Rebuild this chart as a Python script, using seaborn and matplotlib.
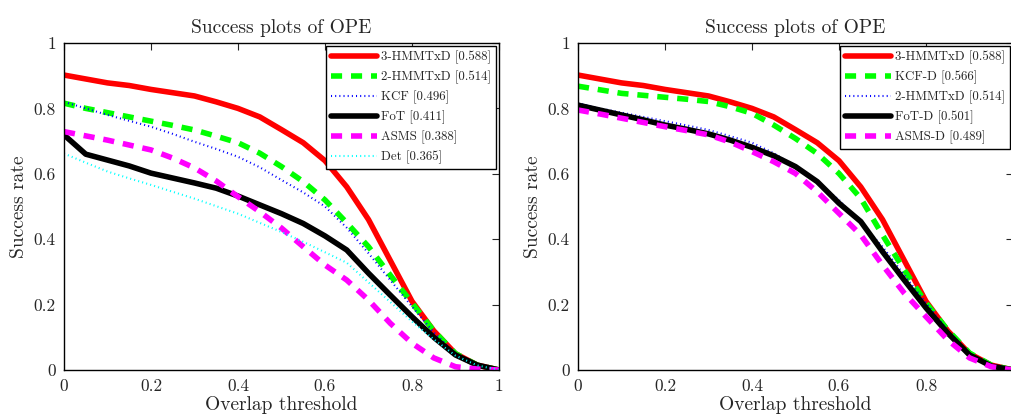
import numpy as np
import pandas as pd
import matplotlib
matplotlib.use("Agg")
import matplotlib.pyplot as plt
import seaborn as sns

# overlap thresholds
thresholds = [0.0, 0.05, 0.1, 0.15, 0.2, 0.25, 0.3, 0.35, 0.4, 0.45, 0.5,
              0.55, 0.6, 0.65, 0.7, 0.75, 0.8, 0.85, 0.9, 0.95, 1.0]

# left panel
hmm3 = [0.902, 0.89, 0.878, 0.87, 0.858, 0.848, 0.838, 0.82, 0.80, 0.774, 0.735,
        0.695, 0.64, 0.56, 0.46, 0.335, 0.21, 0.12, 0.05, 0.015, 0.0]
hmm2 = [0.816, 0.80, 0.787, 0.774, 0.761, 0.748, 0.734, 0.715, 0.695, 0.663, 0.622,
        0.576, 0.52, 0.45, 0.377, 0.29, 0.205, 0.12, 0.05, 0.015, 0.0]
kcf = [0.82, 0.80, 0.78, 0.762, 0.744, 0.722, 0.698, 0.676, 0.652, 0.62, 0.581,
       0.543, 0.50, 0.435, 0.357, 0.275, 0.194, 0.115, 0.05, 0.015, 0.0]
fot = [0.719, 0.66, 0.642, 0.624, 0.602, 0.587, 0.572, 0.556, 0.532, 0.505, 0.478,
       0.448, 0.41, 0.367, 0.296, 0.229, 0.163, 0.10, 0.046, 0.015, 0.0]
asms = [0.729, 0.716, 0.703, 0.688, 0.673, 0.648, 0.618, 0.578, 0.53, 0.484, 0.434,
        0.377, 0.321, 0.275, 0.214, 0.143, 0.082, 0.037, 0.01, 0.003, 0.0]
det = [0.662, 0.634, 0.607, 0.586, 0.566, 0.545, 0.524, 0.501, 0.478, 0.45, 0.422,
       0.392, 0.36, 0.328, 0.268, 0.208, 0.148, 0.094, 0.044, 0.014, 0.0]

# right panel (3-HMMTxD and 2-HMMTxD are the same runs as on the left)
kcf_d = [0.868, 0.857, 0.846, 0.840, 0.834, 0.828, 0.821, 0.805, 0.785, 0.749, 0.708,
         0.662, 0.601, 0.525, 0.413, 0.306, 0.205, 0.122, 0.052, 0.015, 0.0]
fot_d = [0.81, 0.795, 0.78, 0.765, 0.749, 0.736, 0.722, 0.703, 0.681, 0.655, 0.622,
         0.576, 0.51, 0.454, 0.362, 0.275, 0.19, 0.113, 0.046, 0.012, 0.0]
asms_d = [0.795, 0.783, 0.77, 0.757, 0.744, 0.732, 0.719, 0.697, 0.668, 0.637, 0.601,
          0.545, 0.479, 0.413, 0.321, 0.235, 0.163, 0.092, 0.037, 0.01, 0.0]

tick_vals = [0, 0.2, 0.4, 0.6, 0.8, 1]
tick_text = ["0", "0.2", "0.4", "0.6", "0.8", "1"]

left_series = [
    ("3-HMMTxD [0.588]", hmm3, "#ff0000", "-", 4),
    ("2-HMMTxD [0.514]", hmm2, "#00ff00", (0, (2, 1.6)), 4),
    ("KCF [0.496]", kcf, "#0000ff", (0, (0.5, 1.5)), 1.5),
    ("FoT [0.411]", fot, "#000000", "-", 4),
    ("ASMS [0.388]", asms, "#ff00ff", (0, (2, 1.6)), 4),
    ("Det [0.365]", det, "#00ffff", (0, (0.5, 1.5)), 1.5),
]
right_series = [
    ("3-HMMTxD [0.588]", hmm3, "#ff0000", "-", 4),
    ("KCF-D [0.566]", kcf_d, "#00ff00", (0, (2, 1.6)), 4),
    ("2-HMMTxD [0.514]", hmm2, "#0000ff", (0, (0.5, 1.5)), 1.5),
    ("FoT-D [0.501]", fot_d, "#000000", "-", 4),
    ("ASMS-D [0.489]", asms_d, "#ff00ff", (0, (2, 1.6)), 4),
]

sns.set_style("white")
plt.rcParams['font.family'] = 'serif'
plt.rcParams['font.serif'] = ['cmr10', 'DejaVu Serif']
plt.rcParams['mathtext.fontset'] = 'cm'
plt.rcParams['axes.formatter.use_mathtext'] = True

fig = plt.figure(figsize=(10.11, 4.2), dpi=100)
ax1 = fig.add_axes([64 / 1011, 50 / 420, 435 / 1011, 327 / 420])
ax2 = fig.add_axes([578 / 1011, 50 / 420, 435 / 1011, 327 / 420])

for ax, series in [(ax1, left_series), (ax2, right_series)]:
    for label, vals, col, ls, lw in series:
        df = pd.DataFrame({"x": thresholds, "y": vals})
        sns.lineplot(data=df, x="x", y="y", ax=ax, color=col, linestyle=ls,
                     linewidth=lw, label=label)
    ax.set_xlim(0, 1)
    ax.set_ylim(0, 1)
    ax.set_xticks(tick_vals)
    ax.set_yticks(tick_vals)
    ax.set_yticklabels(tick_text)
    ax.tick_params(direction="in", top=True, right=True, labelsize=12.5,
                   length=5, width=0.8, pad=6)
    for sp in ax.spines.values():
        sp.set_visible(True)
        sp.set_color("black")
        sp.set_linewidth(1.0)
    ax.set_xlabel("Overlap threshold", fontsize=14, labelpad=2)
    ax.set_ylabel("Success rate", fontsize=14, labelpad=4)
    ax.set_title("Success plots of OPE", fontsize=14, pad=7)
    leg = ax.legend(loc="upper right", fontsize=9.3, frameon=True, fancybox=False,
                    framealpha=1, edgecolor="black", handlelength=3.6,
                    borderaxespad=0.2, labelspacing=0.5, handletextpad=0.3,
                    borderpad=0.4)
    leg.get_frame().set_linewidth(1.0)

ax1.set_xticklabels(tick_text)
# the right panel runs past the figure edge, so its "1" label is cut away
ax2.set_xticklabels(tick_text[:-1] + [""])

fig.savefig("out.png", dpi=100)
